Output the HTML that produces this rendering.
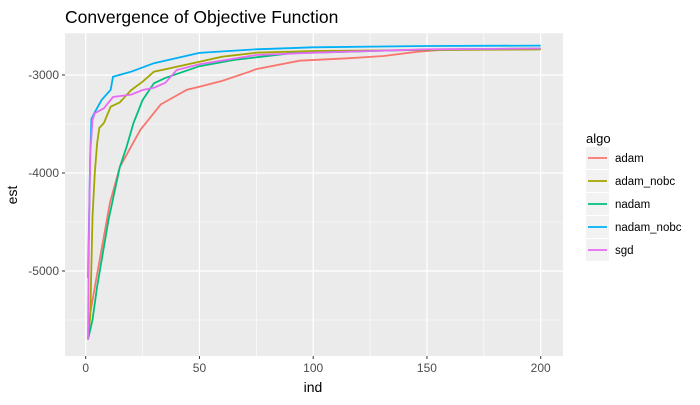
<!DOCTYPE html>
<html><head><meta charset="utf-8"><style>
body{margin:0;background:#fff;font-family:"Liberation Sans",sans-serif}
</style></head><body>
<svg id="chart" width="700" height="400" xmlns="http://www.w3.org/2000/svg" font-family="Liberation Sans, sans-serif">
<rect width="700" height="400" fill="#fff"/>
<text x="65" y="23" font-size="17.5" fill="#000">Convergence of Objective Function</text>
<rect x="65" y="33.3" width="498" height="322.7" fill="#ebebeb"/>
<g id="grid"></g>
<g id="series"></g>
<g id="axes"></g>
<text x="313" y="392" font-size="14" text-anchor="middle">ind</text>
<text transform="translate(17,195) rotate(-90)" font-size="14" text-anchor="middle">est</text>
<g id="legend"></g>
</svg>
<script>
const seriesNames = ["adam","adam_nobc","nadam","nadam_nobc","sgd"];
const seriesColors = ["#F8766D","#A3A500","#00BF7D","#00B0F6","#E76BF3"];
const adamX = [1,2,4.8,10.7,15,24,33,44.5,50,60,72,75,94,115,131,146,156,200];
const adamY = [-5700,-5430,-5060,-4300,-3940,-3560,-3300,-3150,-3120,-3060,-2966,-2940,-2854,-2830,-2806,-2762,-2745,-2735];
const adamNobcX = [1,2,3,4,5,6,8,11,15,20,25,30,40,50,60,75,100,150,200];
const adamNobcY = [-5700,-5450,-4450,-4000,-3700,-3540,-3490,-3323,-3280,-3153,-3068,-2966,-2915,-2864,-2813,-2772,-2755,-2745,-2740];
const nadamX = [1,3,5,10,15,18,21,25,30,35,50,65,90,150,200];
const nadamY = [-5700,-5500,-5160,-4480,-3940,-3730,-3490,-3255,-3085,-3030,-2910,-2847,-2779,-2740,-2730];
const nadamNobcX = [1,1.5,2,2.5,4,7,11,12,20,30,50,75,100,150,200];
const nadamNobcY = [-5070,-4450,-3800,-3450,-3380,-3255,-3150,-3017,-2966,-2880,-2774,-2738,-2717,-2704,-2700];
const sgdX = [1,1.5,2,3,4,8,12,20,25,30,35,40,50,75,100,150,200];
const sgdY = [-5700,-4500,-3800,-3460,-3390,-3340,-3225,-3200,-3153,-3130,-3080,-2949,-2890,-2796,-2772,-2738,-2730];
const xTicks = [0,50,100,150,200];
const yTicks = [-3000,-4000,-5000];
const xMinor = [25,75,125,175];
const yMinor = [-3500,-4500,-5500];

const NS="http://www.w3.org/2000/svg";
function xs(v){return 85.7+v*2.275;}
function ys(v){return 75+(-3000-v)*0.098;}
function mk(tag,attrs,parent){const e=document.createElementNS(NS,tag);for(const k in attrs)e.setAttribute(k,attrs[k]);parent.appendChild(e);return e;}
const grid=document.getElementById('grid'),axes=document.getElementById('axes'),ser=document.getElementById('series'),leg=document.getElementById('legend');
xMinor.forEach(v=>{const l=mk('line',{x1:xs(v),x2:xs(v),y1:33.3,y2:356,stroke:'#fff','stroke-width':0.6},grid);

});
yMinor.forEach(v=>{const l=mk('line',{x1:65,x2:563,y1:ys(v),y2:ys(v),stroke:'#fff','stroke-width':0.6},grid);

});
xTicks.forEach(v=>{const l=mk('line',{x1:xs(v),x2:xs(v),y1:33.3,y2:356,stroke:'#fff','stroke-width':1.2},grid);


const t=mk('line',{x1:xs(v),x2:xs(v),y1:356,y2:359,stroke:'#333','stroke-width':1},axes);


const tx=mk('text',{x:xs(v),y:372,'font-size':12,fill:'#4d4d4d','text-anchor':'middle'},axes);tx.textContent=v;

});
yTicks.forEach(v=>{const l=mk('line',{x1:65,x2:563,y1:ys(v),y2:ys(v),stroke:'#fff','stroke-width':1.2},grid);


const t=mk('line',{x1:62,x2:65,y1:ys(v),y2:ys(v),stroke:'#333','stroke-width':1},axes);


const tx=mk('text',{x:59,y:ys(v)+4,'font-size':12,fill:'#4d4d4d','text-anchor':'end'},axes);tx.textContent=v;

});
const allX=[adamX,adamNobcX,nadamX,nadamNobcX,sgdX],allY=[adamY,adamNobcY,nadamY,nadamNobcY,sgdY];
allX.forEach((X,i)=>{let d='';X.forEach((x,j)=>{d+=(j?'L':'M')+xs(x).toFixed(1)+','+ys(allY[i][j]).toFixed(1);});
const p=mk('path',{d:d,fill:'none',stroke:seriesColors[i],'stroke-width':1.8},ser);

});
const lt=mk('text',{x:586,y:143,'font-size':13},leg);lt.textContent='algo';


seriesNames.forEach((n,i)=>{const cy=158+i*23;
const g=mk('g',{},leg);


mk('rect',{x:586,y:cy-11,width:23,height:22,fill:'#f2f2f2'},g);
mk('line',{x1:588,x2:607,y1:cy,y2:cy,stroke:seriesColors[i],'stroke-width':1.8},g);
const t=mk('text',{x:615,y:cy+4,'font-size':11.5,fill:'#000'},g);t.textContent=n;});
</script>
</body></html>
